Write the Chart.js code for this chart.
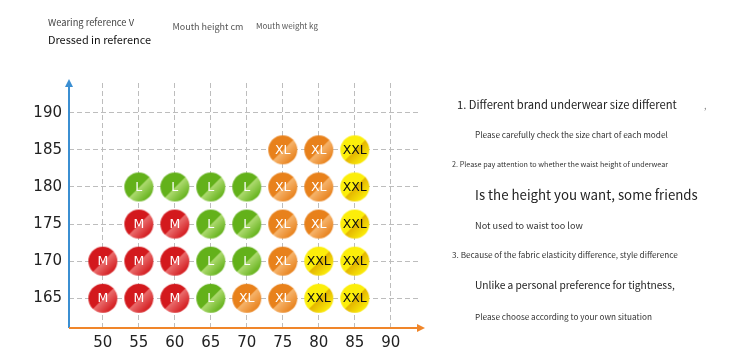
<!DOCTYPE html>
<html><head><meta charset="utf-8">
<script src="https://cdn.jsdelivr.net/npm/chart.js@4/dist/chart.umd.min.js"></script>
<style>
html,body{margin:0;padding:0;background:#fff;width:750px;height:360px;overflow:hidden;}
#wrap{position:relative;width:750px;height:360px;}
canvas{position:absolute;left:0;top:0;}
.t{position:absolute;white-space:nowrap;font-family:"Noto Sans CJK SC","Noto Sans",sans-serif;line-height:1;transform:translateY(-50%);}
</style></head><body>
<div id="wrap"><canvas id="c" width="750" height="360"></canvas></div>
<script>
// ---- data ----
const sizeNames = ['M', 'L', 'XL', 'XXL'];
const ptsM   = [[50,165],[55,165],[60,165],[50,170],[55,170],[60,170],[55,175],[60,175]];
const ptsL   = [[65,165],[65,170],[70,170],[65,175],[70,175],[55,180],[60,180],[65,180],[70,180]];
const ptsXL  = [[70,165],[75,165],[75,170],[75,175],[80,175],[75,180],[80,180],[75,185],[80,185]];
const ptsXXL = [[80,165],[85,165],[80,170],[85,170],[85,175],[85,180],[85,185]];
const headerTexts = ['Wearing reference V', 'Dressed in reference', 'Mouth height cm', 'Mouth weight kg'];
const noteTexts = [
  '1. Different brand underwear size different',
  'Please carefully check the size chart of each model',
  '2. Please pay attention to whether the waist height of underwear',
  'Is the height you want, some friends',
  'Not used to waist too low',
  '3. Because of the fabric elasticity difference, style difference',
  'Unlike a personal preference for tightness,',
  'Please choose according to your own situation'
];

// ---- styles / layout ----
const sizeStyle = [
  {base:'#d3191d', light:'#ea6d6d', text:'#ffffff'},
  {base:'#63b11a', light:'#aedb70', text:'#ffffff'},
  {base:'#e8811b', light:'#f6b46c', text:'#ffffff'},
  {base:'#fcee0a', light:'#e4b500', text:'#111111'}
];
const headerLayout = [
  {l:48, cy:23, w:86, c:'#444'},
  {l:48, cy:39, w:103, c:'#111'},
  {l:172.5, cy:27, w:71, c:'#555'},
  {l:256, cy:26, w:62, c:'#555'}
];
const noteLayout = [
  {l:457, cy:105, w:220, c:'#222'},
  {l:475, cy:134, w:193, c:'#333'},
  {l:452, cy:165, w:216, c:'#333'},
  {l:475, cy:195, w:223, c:'#222'},
  {l:475, cy:225.5, w:108, c:'#333'},
  {l:452, cy:255, w:226, c:'#333'},
  {l:475, cy:285, w:200, c:'#222'},
  {l:475, cy:315.5, w:177, c:'#333'}
];

function placeTexts(texts, layout){
  const wrap = document.getElementById('wrap');
  texts.forEach((s, i) => {
    const L = layout[i];
    const d = document.createElement('div');
    d.className = 't'; d.textContent = s;
    d.style.left = L.l + 'px'; d.style.top = L.cy + 'px'; d.style.color = L.c;
    d.style.fontSize = '20px';
    wrap.appendChild(d);
    const w = d.getBoundingClientRect().width;
    d.style.fontSize = (20 * L.w / w).toFixed(2) + 'px';
  });
}
placeTexts(headerTexts, headerLayout);
placeTexts(noteTexts, noteLayout);
const comma = document.createElement('div');
comma.className = 't'; comma.textContent = ','; comma.style.left = '704px'; comma.style.top = '105px';
comma.style.fontSize = '9px'; comma.style.color = '#888';
document.getElementById('wrap').appendChild(comma);

function makeBubble(st, r){
  const s = Math.ceil(r * 2) + 2;
  const c = document.createElement('canvas'); c.width = s; c.height = s;
  const g = c.getContext('2d'); const cx = s / 2;
  g.beginPath(); g.arc(cx, cx, r, 0, Math.PI * 2); g.closePath();
  const gr = g.createLinearGradient(cx - r*0.72, cx - r*0.72, cx + r*0.72, cx + r*0.72);
  gr.addColorStop(0, st.base); gr.addColorStop(0.5, st.base);
  gr.addColorStop(0.53, st.light); gr.addColorStop(1, st.base);
  g.fillStyle = gr; g.fill();
  return c;
}

const allPts = [ptsM, ptsL, ptsXL, ptsXXL];
const datasets = allPts.map((pts, i) => ({
  label: sizeNames[i],
  data: pts.map(p => ({x: p[0], y: p[1]})),
  pointStyle: makeBubble(sizeStyle[i], 14.5),
  pointRadius: 14.5,
  labelColor: sizeStyle[i].text
}));

const labelPlugin = {
  id: 'bubbleLabels',
  afterDatasetsDraw(chart){
    const ctx = chart.ctx;
    chart.data.datasets.forEach((ds, i) => {
      const meta = chart.getDatasetMeta(i);
      ctx.save();
      ctx.font = '12.5px "DejaVu Sans"';
      ctx.fillStyle = ds.labelColor;
      ctx.textAlign = 'center'; ctx.textBaseline = 'middle';
      meta.data.forEach(pt => ctx.fillText(ds.label, pt.x, pt.y + 0.5));
      ctx.restore();
    });
  }
};
const axisPlugin = {
  id: 'arrowAxes',
  afterDraw(chart){
    const ctx = chart.ctx, a = chart.chartArea;
    ctx.save();
    ctx.lineWidth = 2;
    ctx.strokeStyle = ctx.fillStyle = '#3b8fd2';
    ctx.beginPath(); ctx.moveTo(a.left, a.bottom); ctx.lineTo(a.left, a.top + 2); ctx.stroke();
    ctx.beginPath(); ctx.moveTo(a.left, a.top - 4); ctx.lineTo(a.left - 4, a.top + 4); ctx.lineTo(a.left + 4, a.top + 4); ctx.closePath(); ctx.fill();
    ctx.strokeStyle = ctx.fillStyle = '#f0862a';
    ctx.beginPath(); ctx.moveTo(a.left, a.bottom); ctx.lineTo(a.right - 2, a.bottom); ctx.stroke();
    ctx.beginPath(); ctx.moveTo(a.right + 4, a.bottom); ctx.lineTo(a.right - 4, a.bottom - 4); ctx.lineTo(a.right - 4, a.bottom + 4); ctx.closePath(); ctx.fill();
    ctx.restore();
  }
};

const gridOpts = {color: '#bdbdbd', lineWidth: 1, drawTicks: false, tickLength: 0};
const tickFont = {family: '"DejaVu Sans"', size: 15};
new Chart(document.getElementById('c'), {
  type: 'scatter',
  data: {datasets},
  options: {
    responsive: false, animation: false,
    layout: {padding: {left: 0, top: 83, right: 329, bottom: 0}},
    plugins: {legend: {display: false}, tooltip: {enabled: false}},
    scales: {
      x: {
        type: 'linear', min: 45.3, max: 94.2,
        grid: gridOpts, border: {display: false, dash: [5, 3]},
        ticks: {stepSize: 5, includeBounds: false, font: tickFont, color: '#222', padding: 6, maxRotation: 0},
        afterFit(s){ s.height = 32; }
      },
      y: {
        type: 'linear', min: 161, max: 194,
        grid: gridOpts, border: {display: false, dash: [5, 3]},
        ticks: {stepSize: 5, includeBounds: false, font: tickFont, color: '#222', padding: 7},
        afterFit(s){ s.width = 69; }
      }
    }
  },
  plugins: [labelPlugin, axisPlugin]
});
</script>
</body></html>
